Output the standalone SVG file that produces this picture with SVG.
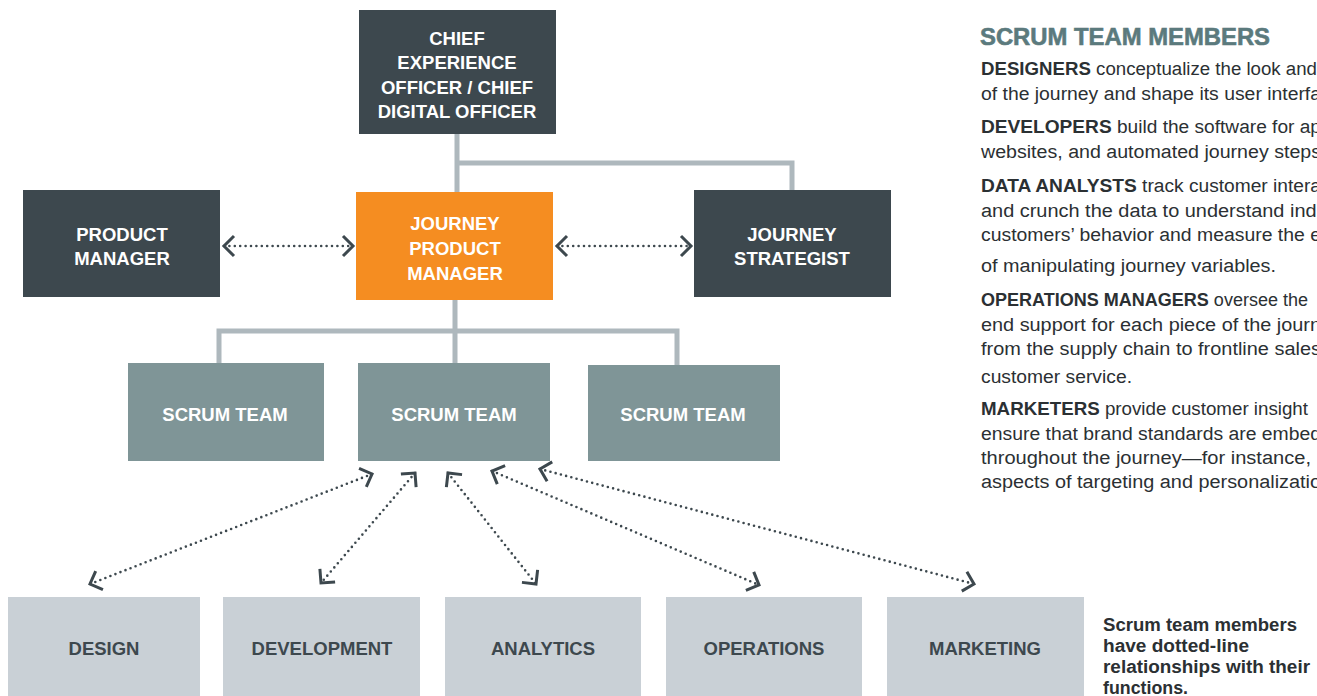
<svg xmlns="http://www.w3.org/2000/svg" width="1317" height="696" viewBox="0 0 1317 696">
<style>
.dark{fill:#3d484e}
.orange{fill:#f58d21}
.scrum{fill:#7f9597}
.func{fill:#c9d0d6}
.bt{font-family:"Liberation Sans",Arial,sans-serif;font-weight:bold;font-size:18.5px;fill:#ffffff;text-anchor:middle}
.ft{font-family:"Liberation Sans",Arial,sans-serif;font-weight:bold;font-size:18.5px;fill:#3d484e;text-anchor:middle}
.tree{fill:none;stroke:#aeb8bd;stroke-width:5}
.dot{fill:none;stroke:#3d484e;stroke-width:2.6;stroke-dasharray:0 5.4;stroke-linecap:round;marker-start:url(#chev);marker-end:url(#chev)}
.title{font-family:"Liberation Sans",Arial,sans-serif;font-weight:bold;font-size:24px;fill:#5b7a7d;stroke:#5b7a7d;stroke-width:0.6}
.body{font-family:"Liberation Sans",Arial,sans-serif;font-size:18px;fill:#2b3033}
.body tspan.b{font-weight:bold}
.note{font-family:"Liberation Sans",Arial,sans-serif;font-weight:bold;font-size:18px;fill:#2b3033}
</style>
<defs>
<marker id="chev" markerUnits="userSpaceOnUse" viewBox="-14 -14 18 28" refX="0" refY="0" markerWidth="18" markerHeight="28" orient="auto-start-reverse">
<path d="M-10,-10 L0,0 L-10,10" fill="none" stroke="#3d484e" stroke-width="3" stroke-dasharray="none" stroke-linejoin="miter"/>
</marker>
</defs>

<g id="connectors">
<path class="tree" d="M457,134 V192 M457,163 H792 V190"/>
<path class="tree" d="M455,300 V363 M219,363 V331 H677 V365"/>
<line class="dot" x1="224" y1="246" x2="353" y2="246"/>
<line class="dot" x1="557" y1="246" x2="691" y2="246"/>
<line class="dot" x1="372" y1="474" x2="90" y2="584"/>
<line class="dot" x1="415" y1="473" x2="321" y2="583"/>
<line class="dot" x1="448" y1="473" x2="536" y2="584"/>
<line class="dot" x1="492" y1="471" x2="759" y2="585"/>
<line class="dot" x1="540" y1="469" x2="974" y2="584"/>
</g>

<g id="chief">
<rect class="dark" x="359" y="10" width="197" height="124"/>
<text class="bt" x="457" y="45">CHIEF</text>
<text class="bt" x="457" y="69">EXPERIENCE</text>
<text class="bt" x="457" y="94">OFFICER / CHIEF</text>
<text class="bt" x="457" y="118">DIGITAL OFFICER</text>
</g>

<g id="product-manager">
<rect class="dark" x="23" y="190" width="197" height="107"/>
<text class="bt" x="122" y="241">PRODUCT</text>
<text class="bt" x="122" y="265">MANAGER</text>
</g>

<g id="journey-product-manager">
<rect class="orange" x="356" y="192" width="197" height="108"/>
<text class="bt" x="455" y="230">JOURNEY</text>
<text class="bt" x="455" y="255">PRODUCT</text>
<text class="bt" x="455" y="280">MANAGER</text>
</g>

<g id="journey-strategist">
<rect class="dark" x="694" y="190" width="197" height="107"/>
<text class="bt" x="792" y="241">JOURNEY</text>
<text class="bt" x="792" y="265">STRATEGIST</text>
</g>

<g id="scrum-team-1">
<rect class="scrum" x="128" y="363" width="196" height="98"/>
<text class="bt" x="225" y="421">SCRUM TEAM</text>
</g>
<g id="scrum-team-2">
<rect class="scrum" x="358" y="363" width="192" height="98"/>
<text class="bt" x="454" y="421">SCRUM TEAM</text>
</g>
<g id="scrum-team-3">
<rect class="scrum" x="588" y="365" width="192" height="96"/>
<text class="bt" x="683" y="421">SCRUM TEAM</text>
</g>

<g id="design">
<rect class="func" x="8" y="597" width="192" height="99"/>
<text class="ft" x="104" y="655">DESIGN</text>
</g>
<g id="development">
<rect class="func" x="223" y="597" width="197" height="99"/>
<text class="ft" x="322" y="655">DEVELOPMENT</text>
</g>
<g id="analytics">
<rect class="func" x="445" y="597" width="196" height="99"/>
<text class="ft" x="543" y="655">ANALYTICS</text>
</g>
<g id="operations">
<rect class="func" x="666" y="597" width="196" height="99"/>
<text class="ft" x="764" y="655">OPERATIONS</text>
</g>
<g id="marketing">
<rect class="func" x="887" y="597" width="197" height="99"/>
<text class="ft" x="985" y="655">MARKETING</text>
</g>

<g id="note">
<text class="note" x="1103" y="631" textLength="194" lengthAdjust="spacingAndGlyphs">Scrum team members</text>
<text class="note" x="1103" y="652" textLength="146" lengthAdjust="spacingAndGlyphs">have dotted-line</text>
<text class="note" x="1103" y="673" textLength="207" lengthAdjust="spacingAndGlyphs">relationships with their</text>
<text class="note" x="1103" y="694" textLength="85" lengthAdjust="spacingAndGlyphs">functions.</text>
</g>

<g id="legend">
<text class="title" x="980" y="45" textLength="290" lengthAdjust="spacingAndGlyphs">SCRUM TEAM MEMBERS</text>
<text class="body" x="981" y="75" textLength="336" lengthAdjust="spacingAndGlyphs"><tspan class="b">DESIGNERS</tspan> conceptualize the look and</text>
<text class="body" x="981" y="100" textLength="340" lengthAdjust="spacingAndGlyphs">of the journey and shape its user interfa</text>
<text class="body" x="981" y="133" textLength="340" lengthAdjust="spacingAndGlyphs"><tspan class="b">DEVELOPERS</tspan> build the software for ap</text>
<text class="body" x="981" y="158" textLength="340" lengthAdjust="spacingAndGlyphs">websites, and automated journey steps</text>
<text class="body" x="981" y="192" textLength="340" lengthAdjust="spacingAndGlyphs"><tspan class="b">DATA ANALYSTS</tspan> track customer intera</text>
<text class="body" x="981" y="217" textLength="340" lengthAdjust="spacingAndGlyphs">and crunch the data to understand indi</text>
<text class="body" x="981" y="241" textLength="340" lengthAdjust="spacingAndGlyphs">customers’ behavior and measure the e</text>
<text class="body" x="981" y="272" textLength="295" lengthAdjust="spacingAndGlyphs">of manipulating journey variables.</text>
<text class="body" x="981" y="306" textLength="327" lengthAdjust="spacingAndGlyphs"><tspan class="b">OPERATIONS MANAGERS</tspan> oversee the</text>
<text class="body" x="981" y="331" textLength="340" lengthAdjust="spacingAndGlyphs">end support for each piece of the journ</text>
<text class="body" x="981" y="355" textLength="340" lengthAdjust="spacingAndGlyphs">from the supply chain to frontline sales</text>
<text class="body" x="981" y="383" textLength="151" lengthAdjust="spacingAndGlyphs">customer service.</text>
<text class="body" x="981" y="415" textLength="327" lengthAdjust="spacingAndGlyphs"><tspan class="b">MARKETERS</tspan> provide customer insight</text>
<text class="body" x="981" y="440" textLength="340" lengthAdjust="spacingAndGlyphs">ensure that brand standards are embed</text>
<text class="body" x="981" y="464" textLength="340" lengthAdjust="spacingAndGlyphs">throughout the journey—for instance, i</text>
<text class="body" x="981" y="488" textLength="340" lengthAdjust="spacingAndGlyphs">aspects of targeting and personalizatio</text>
</g>
</svg>
